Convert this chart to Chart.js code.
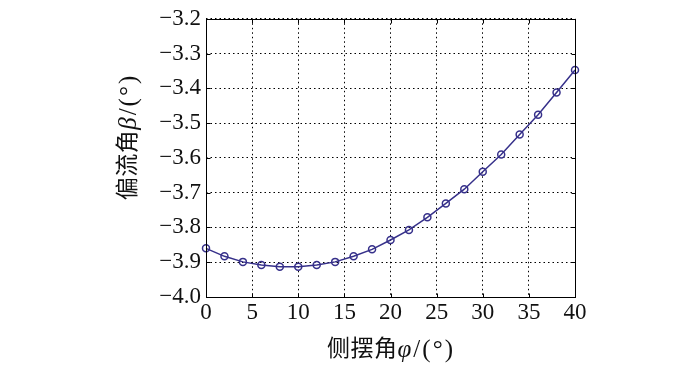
<!DOCTYPE html>
<html>
<head>
<meta charset="utf-8">
<script src="https://cdn.jsdelivr.net/npm/chart.js@4/dist/chart.umd.min.js"></script>
<style>
  html, body { margin: 0; padding: 0; background: #fff; }
  #wrap { width: 700px; height: 371px; }
</style>
</head>
<body>
<div id="wrap"><canvas id="grafico" width="700" height="371"></canvas></div>
<script>
// datos
var sideAngle = [0, 2, 4, 6, 8, 10, 12, 14, 16, 18, 20, 22, 24, 26, 28, 30, 32, 34, 36, 38, 40];
var driftAngle = [-3.860, -3.883, -3.899, -3.908, -3.913, -3.913, -3.908, -3.899, -3.883, -3.863,
                  -3.836, -3.807, -3.771, -3.731, -3.690, -3.640, -3.590, -3.533, -3.476, -3.412, -3.347];
var xTitleParts = [['侧摆角', false], ['φ', true], ['/(°)', false]];
var yTitleParts = [['偏流角', false], ['β', true], ['/(°)', false]];

var serif = "'Liberation Serif', 'Noto Sans CJK SC', serif";

function esCJK(c) { return /[\u4e00-\u9fff]/.test(c); }

// los caracteres latinos van algo más grandes y separados, como en la figura original
function fuente(c, italic) {
    return (italic ? 'italic ' : '') + (esCJK(c) ? 23 : 25) + 'px ' + serif;
}

function avance(ctx, c, italic) {
    ctx.font = fuente(c, italic);
    return ctx.measureText(c).width + (esCJK(c) ? 0.5 : 2);
}

function drawParts(ctx, parts) {
    var total = 0;
    parts.forEach(function (p) { for (var c of p[0]) total += avance(ctx, c, p[1]); });
    var x = -total / 2;
    parts.forEach(function (p) {
        for (var c of p[0]) {
            var w = avance(ctx, c, p[1]);
            ctx.fillText(c, x, 0);
            x += w;
        }
    });
}

var marco = {
    id: 'marco',
    afterDraw: function (chart) {
        var ctx = chart.ctx, a = chart.chartArea;
        var L = Math.round(a.left) + 0.5, T = Math.round(a.top) + 0.5;
        var R = Math.round(a.right) + 0.5, B = Math.round(a.bottom) + 0.5;
        ctx.save();
        ctx.strokeStyle = '#000';
        ctx.lineWidth = 1;
        ctx.strokeRect(L, T, R - L, B - T);
        // marcas hacia adentro
        ctx.beginPath();
        chart.scales.x.ticks.forEach(function (t) {
            var px = Math.round(chart.scales.x.getPixelForValue(t.value)) + 0.5;
            ctx.moveTo(px, B); ctx.lineTo(px, B - 4);
            ctx.moveTo(px, T); ctx.lineTo(px, T + 4);
        });
        chart.scales.y.ticks.forEach(function (t) {
            var py = Math.round(chart.scales.y.getPixelForValue(t.value)) + 0.5;
            ctx.moveTo(L, py); ctx.lineTo(L + 4, py);
            ctx.moveTo(R, py); ctx.lineTo(R - 4, py);
        });
        ctx.stroke();
        ctx.fillStyle = '#111';
        ctx.textBaseline = 'middle';
        ctx.textAlign = 'left';
        ctx.translate(391, 350);
        drawParts(ctx, xTitleParts);
        ctx.restore();
        ctx.save();
        ctx.fillStyle = '#111';
        ctx.textBaseline = 'middle';
        ctx.textAlign = 'left';
        ctx.translate(129, 137);
        ctx.rotate(-Math.PI / 2);
        drawParts(ctx, yTitleParts);
        ctx.restore();
    }
};

var ctx = document.getElementById('grafico').getContext('2d');
var grafico = new Chart(ctx, {
    type: 'line',
    data: {
        datasets: [{
            data: sideAngle.map(function (x, i) { return { x: x, y: driftAngle[i] }; }),
            borderColor: '#36308a',
            borderWidth: 1.5,
            pointStyle: 'circle',
            pointRadius: 3.5,
            pointBorderWidth: 1.5,
            pointBorderColor: '#36308a',
            pointBackgroundColor: 'rgba(0,0,0,0)',
            tension: 0,
            clip: false
        }]
    },
    options: {
        responsive: false,
        animation: false,
        layout: { padding: { left: 0, right: 125, top: 15, bottom: 0 } },
        plugins: { legend: { display: false }, tooltip: { enabled: false } },
        scales: {
            x: {
                type: 'linear',
                min: 0, max: 40,
                ticks: { stepSize: 5, padding: 2, color: '#111', font: { family: serif, size: 23 } },
                grid: { color: '#000', lineWidth: 1, drawTicks: false },
                border: { display: false, dash: [1.5, 3] },
                afterFit: function (s) { s.height = 74; }
            },
            y: {
                min: -4.0, max: -3.2,
                ticks: {
                    stepSize: 0.1, padding: 5, color: '#111', font: { family: serif, size: 23 },
                    callback: function (v) { return v.toFixed(1).replace('-', '\u2212'); }
                },
                grid: { color: '#000', lineWidth: 1, drawTicks: false },
                border: { display: false, dash: [1.5, 3] },
                afterFit: function (s) { s.width = 206; }
            }
        }
    },
    plugins: [marco]
});
</script>
</body>
</html>
